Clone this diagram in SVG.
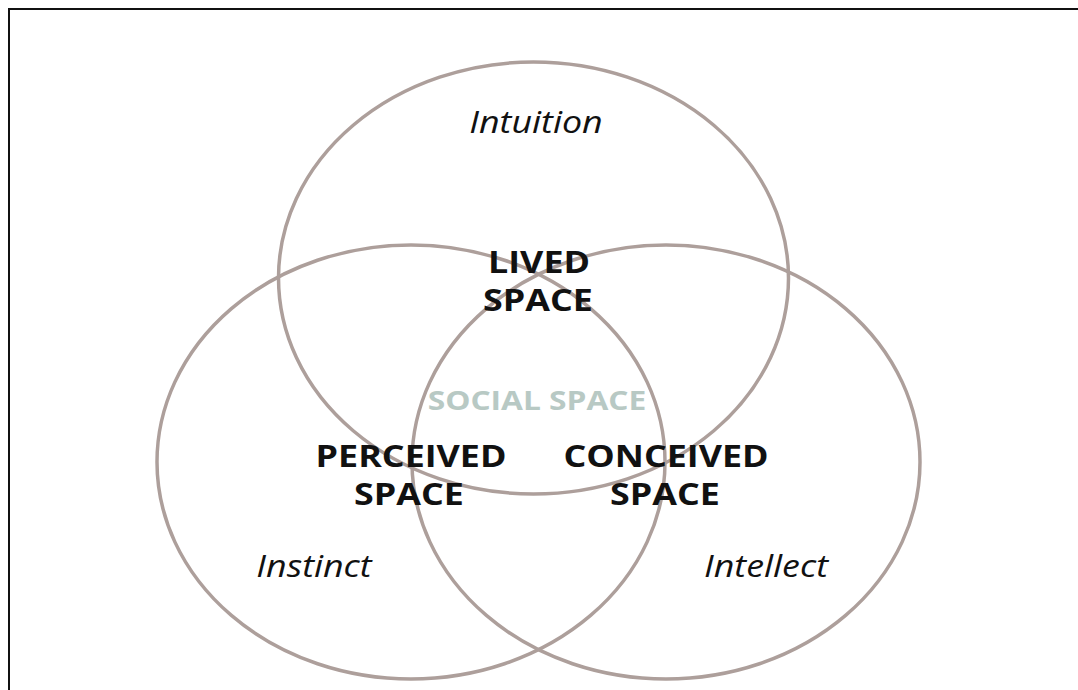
<svg xmlns="http://www.w3.org/2000/svg" width="1078" height="690" viewBox="0 0 1078 690">
<style>
.ring{fill:none;stroke:#ad9f9b;stroke-width:3.5}
.lbl{font-family:"Open Sans","Noto Sans",sans-serif;font-weight:bold;font-size:30.5px;fill:#111;text-anchor:middle}
.soc{font-family:"Open Sans","Noto Sans",sans-serif;font-weight:bold;font-size:27px;fill:#b8c9c4;text-anchor:middle}
.it{font-family:"Open Sans","Noto Sans",sans-serif;font-style:italic;font-size:30.5px;fill:#111;text-anchor:middle}
</style>
<rect width="1078" height="690" fill="#fff"/>
<path d="M9 690 V9 H1078" fill="none" stroke="#111" stroke-width="2"/>
<g id="circles">
<ellipse id="top" class="ring" cx="533.5" cy="278" rx="255" ry="216"/>
<ellipse id="left" class="ring" cx="411" cy="462" rx="254" ry="217"/>
<ellipse id="right" class="ring" cx="666" cy="462" rx="254" ry="217"/>
</g>
<g id="labels">
<text class="it" transform="translate(536 133) scale(1.175 1)">Intuition</text>
<text class="lbl" transform="translate(539 273) scale(1.175 1)">LIVED</text>
<text class="lbl" transform="translate(538 311) scale(1.175 1)">SPACE</text>
<text class="soc" transform="translate(537 410) scale(1.175 1)">SOCIAL SPACE</text>
<text class="lbl" transform="translate(411 467) scale(1.175 1)">PERCEIVED</text>
<text class="lbl" transform="translate(409 505) scale(1.175 1)">SPACE</text>
<text class="lbl" transform="translate(666 467) scale(1.175 1)">CONCEIVED</text>
<text class="lbl" transform="translate(665 505) scale(1.175 1)">SPACE</text>
<text class="it" transform="translate(314 577) scale(1.175 1)">Instinct</text>
<text class="it" transform="translate(766 577) scale(1.175 1)">Intellect</text>
</g>
</svg>
